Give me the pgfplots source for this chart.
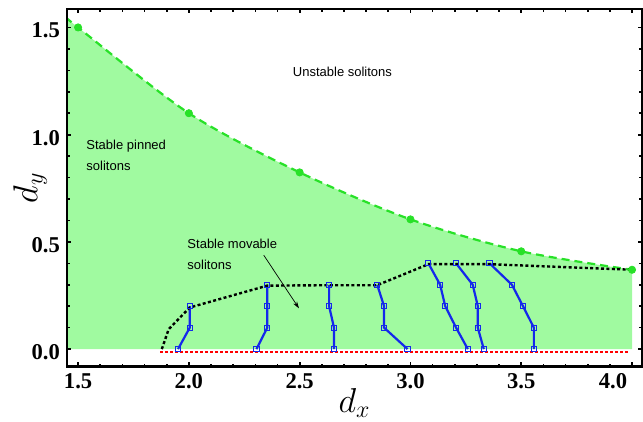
\documentclass[border=0pt]{standalone}
\usepackage{fontspec}
\setmainfont{Liberation Serif}
\newfontfamily\annfont{Liberation Sans}
\usepackage{pgfplots}
\pgfplotsset{compat=1.18}
\usepgfplotslibrary{fillbetween}
\usetikzlibrary{arrows.meta}
\definecolor{fillgreen}{RGB}{160,250,160}
\definecolor{linegreen}{RGB}{40,225,40}
\definecolor{myblue}{RGB}{20,40,235}
\begin{document}
\begin{tikzpicture}
\begin{axis}[
  scale only axis, width=287.5pt, height=178.85pt,
  xmin=1.45, xmax=4.045, ymin=-0.082, ymax=1.586,
  xtick={1.5,2,2.5,3,3.5,4}, ytick={0,0.5,1,1.5},
  xticklabels={1.5,2.0,2.5,3.0,3.5,{4.0\hspace*{19pt}}},
  minor x tick num=4, minor y tick num=4,
  tick align=inside, tick pos=both,
  major tick length=2.2pt, minor tick length=1.4pt,
  major tick style={black, line width=0.9pt},
  minor tick style={black, line width=0.8pt},
  axis line style={line width=1.4pt},
  axis on top,
  /pgf/number format/fixed, /pgf/number format/fixed zerofill,
  /pgf/number format/precision=1, /pgf/number format/assume math mode=true,
  ticklabel style={font=\bfseries\fontsize{11.3}{12}\selectfont},
  yticklabel style={yshift=-1.5pt},
  xlabel={$d_x$}, ylabel={$d_y$},
  label style={font=\fontsize{18}{20}\selectfont},
  xlabel style={at={(axis description cs:0.5,-0.102)}, anchor=center},
  ylabel style={at={(axis description cs:-0.064,0.5)}, anchor=center},
]
% green boundary curve
\addplot[name path=gtop, linegreen, line width=1.1pt, dash pattern=on 4pt off 2.5pt, smooth]
  coordinates {(1.45,1.545) (1.5,1.5) (2.0,1.1) (2.5,0.824) (3.0,0.605) (3.5,0.456) (4.0,0.37)};
\addplot[name path=gbot, draw=none] coordinates {(1.45,0) (4.0,0)};
\addplot[fillgreen, draw=none] fill between[of=gtop and gbot];
\addplot[only marks, mark=*, mark size=1.8pt, linegreen]
  coordinates {(1.5,1.5) (2.0,1.1) (2.5,0.824) (3.0,0.605) (3.5,0.456) (4.0,0.37)};
% red dotted baseline
\addplot[red, line width=1.1pt, dash pattern=on 1.5pt off 1pt]
  coordinates {(1.87,-0.014) (3.99,-0.014)};
% blue lines
\pgfplotsset{bl/.style={myblue, line width=1.1pt, mark=square, mark size=1.3pt, mark options={solid, line width=0.5pt, fill=none}}}
\addplot[bl] coordinates {(1.951,0) (2.004,0.1) (2.004,0.2)};
\addplot[bl] coordinates {(2.305,0) (2.354,0.1) (2.354,0.2) (2.354,0.3)};
\addplot[bl] coordinates {(2.655,0) (2.655,0.1) (2.633,0.2) (2.633,0.3)};
\addplot[bl] coordinates {(2.987,0) (2.881,0.1) (2.881,0.2) (2.85,0.3)};
\addplot[bl] coordinates {(3.259,0) (3.206,0.1) (3.157,0.2) (3.134,0.3) (3.081,0.4)};
\addplot[bl] coordinates {(3.331,0) (3.304,0.1) (3.304,0.2) (3.281,0.3) (3.206,0.4)};
\addplot[bl] coordinates {(3.557,0) (3.557,0.1) (3.508,0.2) (3.458,0.3) (3.357,0.4)};
% black dotted boundary
\addplot[black, line width=1.2pt, dash pattern=on 1.5pt off 1.2pt]
  coordinates {(1.878,0) (1.909,0.093) (2.004,0.194) (2.354,0.296) (2.633,0.298) (2.85,0.298) (3.081,0.396) (3.206,0.396) (3.357,0.396) (4.0,0.37)};
% annotations
\node[anchor=north west, inner sep=0pt, align=left, font=\annfont\fontsize{6.5}{10.5}\selectfont] at (axis cs:2.468,1.318) {Unstable solitons};
\node[anchor=north west, inner sep=0pt, align=left, font=\annfont\fontsize{6.5}{10.5}\selectfont] at (axis cs:1.536,0.977) {Stable pinned\\solitons};
\node[anchor=north west, inner sep=0pt, align=left, font=\annfont\fontsize{6.5}{10.5}\selectfont] at (axis cs:1.992,0.516) {Stable movable\\solitons};
\draw[-{Stealth[length=3.5pt,width=2.2pt]}, line width=0.35pt] (axis cs:2.338,0.438) -- (axis cs:2.497,0.19);
\end{axis}
\pgfresetboundingbox
\path[use as bounding box] ([shift={(-33.5pt,-27.65pt)}]current axis.south west) rectangle ([shift={(0.5pt,4.5pt)}]current axis.north east);
\end{tikzpicture}
\end{document}
